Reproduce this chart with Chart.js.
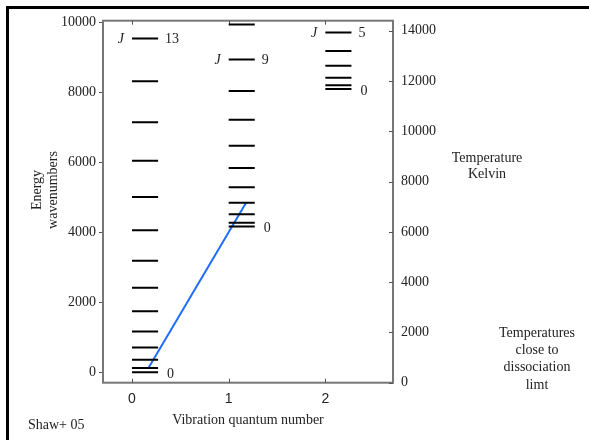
<!DOCTYPE html>
<html><head><meta charset="utf-8">
<script src="https://cdn.jsdelivr.net/npm/chart.js@4/dist/chart.umd.min.js"></script>
<style>html,body{margin:0;padding:0;background:#fff;} canvas{display:block;}</style>
</head><body>
<canvas id="c" width="589" height="440"></canvas>
<script>
// ---- data ----
const vibrations = [0, 1, 2];
const levelsV0 = [0, 118, 354, 702, 1166, 1742, 2413, 3186, 4052, 5003, 6040, 7140, 8310, 9530];
const levelsV1 = [4165, 4272, 4510, 4840, 5280, 5830, 6470, 7210, 8030, 8930, 9930];
const levelsV2 = [8090, 8195, 8410, 8750, 9175, 9700];
const topJ = [13, 9, 5];
const bottomJ = [0, 0, 0];
const transitionX = [0.17, 1.18];
const transitionE = [118, 4840];
const xTicks = [0, 1, 2];
const energyTicks = [0, 2000, 4000, 6000, 8000, 10000];
const tempTicks = [0, 2000, 4000, 6000, 8000, 10000, 12000, 14000];
const levelWidth = 0.27;

const allLevels = [levelsV0, levelsV1, levelsV2];

function levelPoints(v, levels) {
  const pts = [];
  levels.forEach(e => {
    pts.push({x: v, y: e});
    pts.push({x: v + levelWidth, y: e});
    pts.push({x: v + levelWidth, y: null});
  });
  return pts;
}

const SERIF = "'Liberation Serif', 'Times New Roman', serif";
const SANS = "'Liberation Sans', Arial, sans-serif";

const deco = {
  id: 'deco',
  beforeDatasetsDraw(chart) {
    const {ctx, chartArea: a} = chart;
    ctx.save();
    ctx.strokeStyle = '#777';
    ctx.lineWidth = 2;
    ctx.strokeRect(a.left, a.top, a.right - a.left, a.bottom - a.top);
    ctx.lineWidth = 1;
    ctx.strokeStyle = '#555';
    const xs = chart.scales.x;
    xs.ticks.forEach(t => {
      const px = Math.round(xs.getPixelForValue(t.value)) + 0.5;
      ctx.beginPath();
      ctx.moveTo(px, a.bottom); ctx.lineTo(px, a.bottom - 4);
      ctx.moveTo(px, a.top); ctx.lineTo(px, a.top + 4);
      ctx.stroke();
    });
    const y2 = chart.scales.y2;
    y2.ticks.forEach(t => {
      const py = Math.round(y2.getPixelForValue(t.value)) + 0.5;
      ctx.beginPath();
      ctx.moveTo(a.right, py); ctx.lineTo(a.right - 4, py);
      ctx.stroke();
    });
    ctx.restore();
  },
  afterDraw(chart) {
    const {ctx} = chart;
    const xs = chart.scales.x, ys = chart.scales.y;
    ctx.save();
    // outer frame (top and left)
    ctx.fillStyle = '#000';
    ctx.fillRect(6, 6, 583, 3);
    ctx.fillRect(6, 6, 3, 434);

    ctx.fillStyle = '#222';
    ctx.textBaseline = 'middle';
    vibrations.forEach((v, i) => {
      const lv = allLevels[i];
      const yTop = ys.getPixelForValue(lv[topJ[i]]) + 1;
      ctx.font = 'italic 14px ' + SERIF;
      ctx.textAlign = 'right';
      ctx.fillText('J', xs.getPixelForValue(v) - 8, yTop);
      ctx.font = '14px ' + SERIF;
      ctx.textAlign = 'left';
      ctx.fillText(String(topJ[i]), xs.getPixelForValue(v + levelWidth) + 7, yTop);
      ctx.fillText(String(bottomJ[i]), xs.getPixelForValue(v + levelWidth) + 9, ys.getPixelForValue(lv[bottomJ[i]]) + 2);
    });

    ctx.font = '14px ' + SERIF;
    ctx.textAlign = 'center';
    ctx.fillText('Temperature', 487, 158);
    ctx.fillText('Kelvin', 487, 174);
    const lines = ['Temperatures', 'close to', 'dissociation', 'limt'];
    lines.forEach((s, k) => ctx.fillText(s, 537, 333 + k * 17.3));
    ctx.textAlign = 'left';
    ctx.fillText('Shaw+ 05', 28, 425);

    // left axis title
    ctx.save();
    ctx.translate(37, 190);
    ctx.rotate(-Math.PI / 2);
    ctx.textAlign = 'center';
    ctx.fillText('Energy', 0, 0);
    ctx.fillText('wavenumbers', 0, 16);
    ctx.restore();
    ctx.restore();
  }
};

const datasets = vibrations.map((v, i) => ({
  data: levelPoints(v, allLevels[i]),
  showLine: true,
  spanGaps: false,
  borderColor: '#000',
  borderWidth: 2,
  pointRadius: 0,
  yAxisID: 'y'
}));
datasets.push({
  data: transitionX.map((x, k) => ({x: x, y: transitionE[k]})),
  showLine: true,
  borderColor: '#1f6cff',
  borderWidth: 2,
  pointRadius: 0,
  yAxisID: 'y'
});

const plain = v => String(v);

new Chart(document.getElementById('c'), {
  type: 'scatter',
  data: {datasets},
  options: {
    responsive: false,
    animation: false,
    events: [],
    layout: {padding: {left: 0, right: 0, top: 20.7, bottom: 0}},
    plugins: {legend: {display: false}, tooltip: {enabled: false}},
    scales: {
      x: {
        type: 'linear', position: 'bottom', min: -0.3, max: 2.7,
        afterBuildTicks: s => { s.ticks = xTicks.map(v => ({value: v})); },
        afterFit: s => { s.height = 57.3; },
        grid: {display: false, drawTicks: false},
        border: {display: false},
        ticks: {font: {family: SANS, size: 14}, color: '#222', padding: 8, callback: plain},
        title: {display: true, text: 'Vibration quantum number', font: {family: SERIF, size: 14}, color: '#222', padding: {top: 4, bottom: 11}}
      },
      y: {
        type: 'linear', position: 'left', min: -300, max: 10040,
        afterBuildTicks: s => { s.ticks = energyTicks.map(v => ({value: v})); },
        afterFit: s => { s.width = 103; },
        grid: {display: true, drawOnChartArea: false, drawTicks: true, tickLength: 4, color: '#555', lineWidth: 1},
        border: {display: false},
        ticks: {font: {family: SERIF, size: 14}, color: '#222', padding: 3, callback: plain}
      },
      y2: {
        type: 'linear', position: 'right', min: 0, max: 14400,
        afterBuildTicks: s => { s.ticks = tempTicks.map(v => ({value: v})); },
        afterFit: s => { s.width = 196; },
        grid: {display: false, drawTicks: false},
        border: {display: false},
        ticks: {font: {family: SERIF, size: 14}, color: '#222', padding: 8, callback: plain}
      }
    }
  },
  plugins: [deco]
});
</script>
</body></html>
